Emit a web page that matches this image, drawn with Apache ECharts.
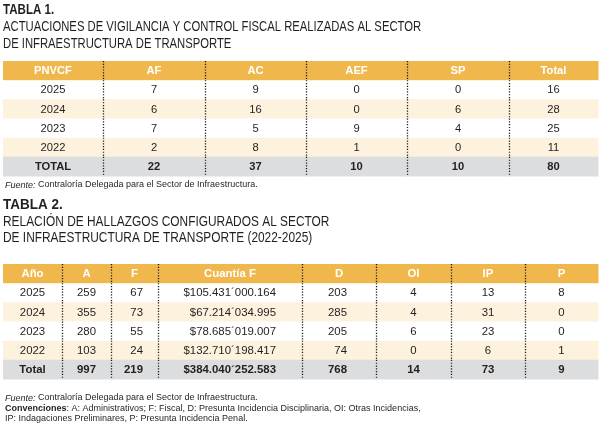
<!DOCTYPE html>
<html>
<head>
<meta charset="utf-8">
<script src="https://cdn.jsdelivr.net/npm/echarts@6/dist/echarts.min.js"></script>
<style>
html,body{margin:0;padding:0;background:#fff;}
#chart{width:601px;height:429px;}
</style>
</head>
<body>
<div id="chart"></div>
<script>
// ---------- DATA ----------
// Tabla 1
var t1Columns = ['PNVCF', 'AF', 'AC', 'AEF', 'SP', 'Total'];
var t1Years = ['2025', '2024', '2023', '2022'];
var t1AF = [7, 6, 7, 2];
var t1AC = [9, 16, 5, 8];
var t1AEF = [0, 0, 9, 1];
var t1SP = [0, 6, 4, 0];
var t1Total = [16, 28, 25, 11];
var t1TotalRow = ['TOTAL', 22, 37, 10, 10, 80];

// Tabla 2
var t2Columns = ['Año', 'A', 'F', 'Cuantía F', 'D', 'OI', 'IP', 'P'];
var t2Years = ['2025', '2024', '2023', '2022'];
var t2A = [259, 355, 280, 103];
var t2F = [67, 73, 55, 24];
var t2Cuantia = ['$105.431´000.164', '$67.214´034.995', '$78.685´019.007', '$132.710´198.417'];
var t2D = [203, 285, 205, 74];
var t2OI = [4, 4, 6, 0];
var t2IP = [13, 31, 23, 6];
var t2P = [8, 0, 0, 1];
var t2TotalRow = ['Total', 997, 219, '$384.040´252.583', 768, 14, 73, 9];

// ---------- LAYOUT / STYLE ----------
var t1Widths = [100, 102, 101, 101, 102, 89];
var t1Align = ['center', 'center', 'center', 'center', 'center', 'center'];
var t1Pad = [0, 0, 0, 0, 0, 0];
var t2Widths = [59, 49, 47, 144, 74, 75, 74, 73];
var t2Align = ['center', 'center', 'right', 'right', 'right', 'center', 'center', 'center'];
var t2Pad = [0, 0, 15, 26, 29, 0, 0, 0];

var C_HEADER = '#F0B74D';
var C_CREAM = '#FDF2DE';
var C_WHITE = '#FFFFFF';
var C_TOTAL = '#DCDDDF';
var C_TEXT = '#231F20';
var BODY_FONT = '"Liberation Sans", Arial, Helvetica, sans-serif';
var TITLE_FONT = '"Liberation Sans", Arial, sans-serif';

function buildRows(columns, years, seriesList, totalRow) {
  var rows = [columns.slice()];
  for (var i = 0; i < years.length; i++) {
    var r = [years[i]];
    for (var s = 0; s < seriesList.length; s++) r.push(seriesList[s][i]);
    rows.push(r);
  }
  rows.push(totalRow.slice());
  return rows;
}

function buildCells(rows) {
  var out = [];
  for (var r = 0; r < rows.length; r++) {
    for (var c = 0; c < rows[r].length; c++) {
      out.push([c, r]);
    }
  }
  return out;
}

function cumulative(w) {
  var e = [0];
  for (var i = 0; i < w.length; i++) e.push(e[i] + w[i]);
  return e;
}

var t1Rows = buildRows(t1Columns, t1Years, [t1AF, t1AC, t1AEF, t1SP, t1Total], t1TotalRow);
var t2Rows = buildRows(t2Columns, t2Years, [t2A, t2F, t2Cuantia, t2D, t2OI, t2IP, t2P], t2TotalRow);
var rowCats = ['h', 'r1', 'r2', 'r3', 'r4', 't'];

function makeRenderer(rows, widths, aligns, pads, fontSize) {
  var edges = cumulative(widths);
  var nRows = rows.length;
  return function (params, api) {
    var c = api.value(0);
    var r = api.value(1);
    var text = String(rows[r][c]);
    var p0 = api.coord([edges[c], r]);
    var p1 = api.coord([edges[c + 1], r]);
    var h = api.size([0, 1])[1];
    var x0 = p0[0], x1 = p1[0], yc = p0[1];
    var y0 = yc - h / 2;
    var fill, color = C_TEXT, weight = 'normal';
    if (r === 0) { fill = C_HEADER; color = '#FFFFFF'; weight = 'bold'; }
    else if (r === nRows - 1) { fill = C_TOTAL; weight = 'bold'; }
    else if (r % 2 === 0) { fill = C_CREAM; }
    else { fill = C_WHITE; }
    var al = r === 0 ? 'center' : aligns[c];
    var tx = al === 'center' ? (x0 + x1) / 2 : (al === 'right' ? x1 - pads[c] : x0 + pads[c]);
    var children = [
      { type: 'rect', shape: { x: x0, y: y0, width: x1 - x0 + 0.5, height: h + 0.5 }, style: { fill: fill } },
      { type: 'text', z2: 5, style: { x: tx, y: yc + 0.5, text: text, align: al, verticalAlign: 'middle',
          fill: color, font: weight + ' ' + fontSize + 'px ' + BODY_FONT } }
    ];
    if (c > 0) {
      children.push({ type: 'line', shape: { x1: Math.round(x0) + 0.5, y1: y0, x2: Math.round(x0) + 0.5, y2: y0 + h },
        style: { stroke: '#1a1a1a', lineWidth: 1.3, lineDash: [1.2, 1.6] }, z2: 10 });
    }
    return { type: 'group', children: children };
  };
}

function grid(top) {
  return { left: 3, right: 3, top: top, height: 115, containLabel: false };
}
function xAxis(idx, widths) {
  var total = cumulative(widths)[widths.length];
  return { type: 'value', gridIndex: idx, min: 0, max: total, show: false };
}
function yAxis(idx) {
  return { type: 'category', gridIndex: idx, data: rowCats, inverse: true, show: false };
}

var titleTexts = [
  { text: 'TABLA 1.', y: 10, bold: true, size: 15, sx: 0.77 },
  { text: 'ACTUACIONES DE VIGILANCIA Y CONTROL FISCAL REALIZADAS AL SECTOR', y: 27.5, bold: false, size: 14, sx: 0.805 },
  { text: 'DE INFRAESTRUCTURA DE TRANSPORTE', y: 44, bold: false, size: 14, sx: 0.805 },
  { text: 'TABLA 2.', y: 205, bold: true, size: 15, sx: 0.9 },
  { text: 'RELACIÓN DE HALLAZGOS CONFIGURADOS AL SECTOR', y: 222, bold: false, size: 14, sx: 0.85 },
  { text: 'DE INFRAESTRUCTURA DE TRANSPORTE (2022-2025)', y: 238.5, bold: false, size: 14, sx: 0.85 }
];

var graphics = titleTexts.map(function (t) {
  return { type: 'text', x: 3, y: t.y, scaleX: t.sx, style: {
    x: 0, y: 0, text: t.text, fill: C_TEXT, verticalAlign: 'middle', align: 'left',
    font: (t.bold ? 'bold ' : '') + t.size + 'px ' + TITLE_FONT } };
});

var NOTE_SIZE = 9;
function note(y, rich) {
  return { type: 'text', x: 5, y: y, style: { x: 0, y: 0, text: rich, verticalAlign: 'middle',
    font: NOTE_SIZE + 'px ' + BODY_FONT, fill: C_TEXT,
    rich: {
      i: { fontStyle: 'italic', fontSize: NOTE_SIZE, fontFamily: BODY_FONT, fill: C_TEXT },
      b: { fontWeight: 'bold', fontSize: NOTE_SIZE, fontFamily: BODY_FONT, fill: C_TEXT },
      n: { fontSize: NOTE_SIZE, fontFamily: BODY_FONT, fill: C_TEXT }
    } } };
}
graphics.push(note(185, '{i|Fuente:}{n| Contraloría Delegada para el Sector de Infraestructura.}'));
graphics.push(note(398, '{i|Fuente:}{n| Contraloría Delegada para el Sector de Infraestructura.}'));
graphics.push(note(408.5, '{b|Convenciones}{n|: A: Administrativos; F: Fiscal, D: Presunta Incidencia Disciplinaria, OI: Otras Incidencias,}'));
graphics.push(note(419, '{n|IP: Indagaciones Preliminares, P: Presunta Incidencia Penal.}'));

var chart = echarts.init(document.getElementById('chart'), null, { renderer: 'canvas' });
chart.setOption({
  animation: false,
  backgroundColor: '#FFFFFF',
  grid: [grid(61), grid(264)],
  xAxis: [xAxis(0, t1Widths), xAxis(1, t2Widths)],
  yAxis: [yAxis(0), yAxis(1)],
  graphic: graphics,
  series: [
    { type: 'custom', xAxisIndex: 0, yAxisIndex: 0, data: buildCells(t1Rows),
      encode: { x: 0, y: 1 }, renderItem: makeRenderer(t1Rows, t1Widths, t1Align, t1Pad, 11.2), silent: true },
    { type: 'custom', xAxisIndex: 1, yAxisIndex: 1, data: buildCells(t2Rows),
      encode: { x: 0, y: 1 }, renderItem: makeRenderer(t2Rows, t2Widths, t2Align, t2Pad, 11.4), silent: true }
  ]
});
</script>
</body>
</html>
